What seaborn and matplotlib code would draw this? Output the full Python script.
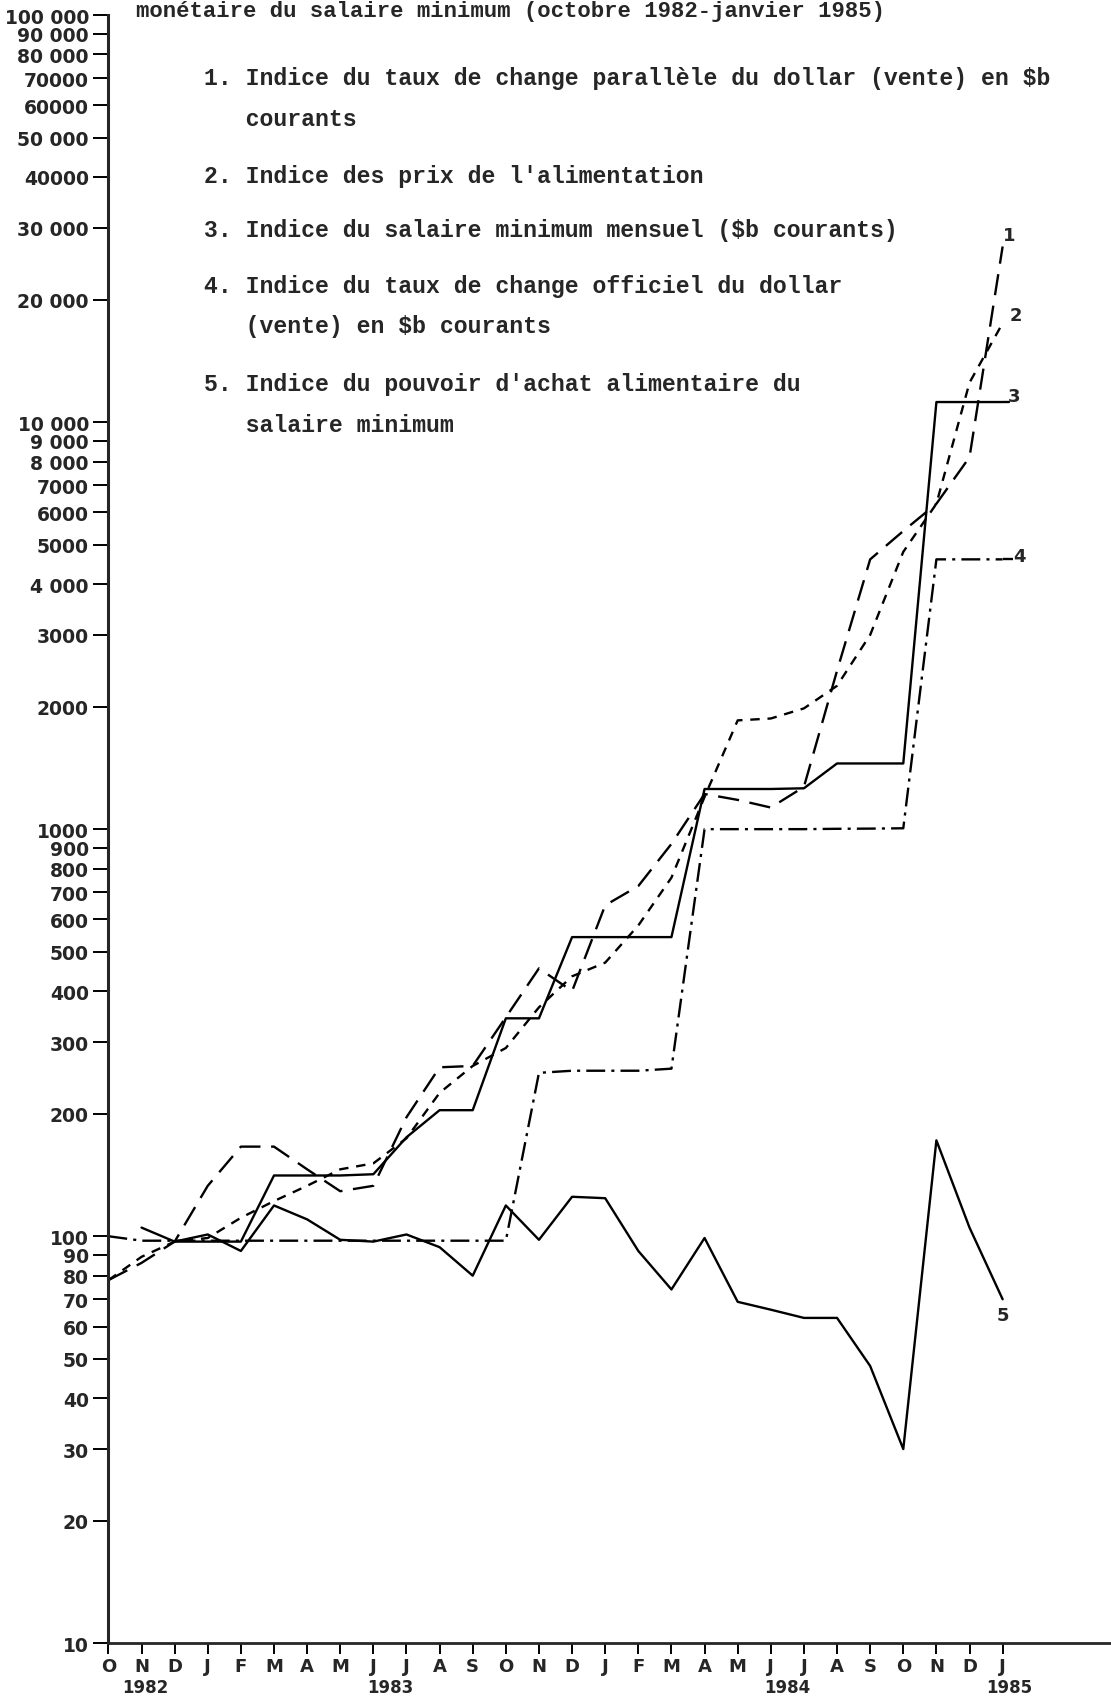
import numpy as np
import pandas as pd
import matplotlib
matplotlib.use("Agg")
import matplotlib.pyplot as plt
import seaborn as sns

nan = np.nan
months = ["O", "N", "D", "J", "F", "M", "A", "M", "J", "J", "A", "S", "O", "N",
          "D", "J", "F", "M", "A", "M", "J", "J", "A", "S", "O", "N", "D", "J"]
years = ["1982", "1983", "1984", "1985"]
year_pos = [1.1, 8.5, 20.5, 27.2]

# 1. parallel exchange rate index
s1 = [78, 86, 97, 133, 166, 166, 146, 129, 133, 196, 260, 262, 345, 455,
      400, 650, 725, 920, 1220, 1180, 1130, 1270, 2450, 4600, 5400, 6300, 8200, 27000]
# 2. food price index
s2 = [78, 89, 97, 99, 111, 122, 133, 146, 151, 174, 225, 262, 290, 365,
      435, 470, 580, 760, 1200, 1850, 1870, 1980, 2250, 3000, 4800, 6300, 12500, 17500]
# 3. monthly minimum wage index
s3 = [nan, nan, 97, 97, 97, 141, 141, 141, 142, 175, 204, 204, 343, 343,
      543, 543, 543, 543, 1255, 1255, 1255, 1260, 1450, 1450, 1450, 11200, 11200, 11200]
# 4. official exchange rate index
s4 = [100, 97.5, 97.5, 97.5, 97.5, 97.5, 97.5, 97.5, 97.5, 97.5, 97.5, 97.5, 97.5, 252,
      255, 255, 255, 258, 1000, 1000, 1000, 1000, 1002, 1003, 1005, 4600, 4600, 4600]
# 5. food purchasing power of the minimum wage
s5 = [nan, 105, 97, 101, 92, 119, 110, 98, 97, 101, 94, 80, 119, 98,
      125, 124, 92, 74, 99, 69, 66, 63, 63, 48, 30, 172, 105, 70]

series_names = ["1", "2", "3", "4", "5"]
series_vals = [s1, s2, s3, s4, s5]
end_labels_y = [28800, 18300, 11600, 4700, 64]

yticks = [10, 20, 30, 40, 50, 60, 70, 80, 90, 100, 200, 300, 400, 500, 600, 700, 800, 900,
          1000, 2000, 3000, 4000, 5000, 6000, 7000, 8000, 9000, 10000, 20000, 30000, 40000,
          50000, 60000, 70000, 80000, 90000, 100000]
ytick_labels = ["10", "20", "30", "40", "50", "60", "70", "80", "90", "100", "200", "300", "400",
                "500", "600", "700", "800", "900", "1000", "2000", "3000", "4 000", "5000",
                "6000", "7000", "8 000", "9 000", "10 000", "20 000", "30 000", "40000",
                "50 000", "60000", "70000", "80 000", "90 000", "100 000"]

legend_lines = [
    "1. Indice du taux de change parallèle du dollar (vente) en $b",
    "   courants",
    "2. Indice des prix de l'alimentation",
    "3. Indice du salaire minimum mensuel ($b courants)",
    "4. Indice du taux de change officiel du dollar",
    "   (vente) en $b courants",
    "5. Indice du pouvoir d'achat alimentaire du",
    "   salaire minimum",
]
legend_y_px = [78, 119, 176, 231, 287, 327, 384, 425]
title = "monétaire du salaire minimum (octobre 1982-janvier 1985)"

rows = []
for name, vals in zip(series_names, series_vals):
    for i, v in enumerate(vals):
        if not np.isnan(v):
            rows.append({"mois": i, "indice": v, "serie": name})
df = pd.DataFrame(rows)

sns.set_style("ticks")
plt.rcParams["font.family"] = ["DejaVu Sans"]

W, H = 1111, 1699
fig = plt.figure(figsize=(W / 100, H / 100), dpi=100)
left_px, bottom_px, top_px = 108.4, 1644.3, 16.0
ax = fig.add_axes([left_px / W, 1 - bottom_px / H, 1 - left_px / W, (bottom_px - top_px) / H])

dashes = {"1": (9, 4.5), "2": (4, 3.3), "3": "", "4": (8, 2.6, 1.3, 2.6), "5": ""}
sns.lineplot(data=df, x="mois", y="indice", style="serie", dashes=dashes, color="black",
             linewidth=1.7, estimator=None, legend=False, ax=ax)

ax.set_yscale("log")
ax.set_ylim(10, 100000)
ax.set_xlim(0, (W - left_px) / 33.12)
ax.set_yticks(yticks)
ax.set_yticklabels(ytick_labels, fontsize=13.5, fontweight="bold")
ax.yaxis.set_minor_locator(matplotlib.ticker.NullLocator())
ax.set_xticks(range(len(months)))
ax.set_xticklabels(months, fontsize=13, fontweight="bold")
ax.tick_params(axis="y", length=11, width=1.4, color="black", pad=3)
ax.tick_params(axis="x", length=8, width=1.4, color="black", pad=2)
ax.set_xlabel("")
ax.set_ylabel("")
for side in ["top", "right"]:
    ax.spines[side].set_visible(False)
ax.spines["left"].set_linewidth(2.2)
ax.spines["bottom"].set_linewidth(2.0)

for yl, yp in zip(years, year_pos):
    xd = ax.transData.transform((yp, 10))[0] / W
    fig.text(xd, 1 - 1688 / H, yl, ha="center", va="center",
             fontsize=12, fontweight="bold")

end_x = [27.2, 27.4, 27.35, 27.5, 27.0]
for name, ex, ey in zip(series_names, end_x, end_labels_y):
    ax.text(ex, ey, name, ha="center", va="center", fontsize=13, fontweight="bold")

# extend lines 3 and 4 to their labels
ax.plot([27, 27.2], [s3[-1], s3[-1]], color="black", lw=1.7)
ax.plot([27, 27.3], [s4[-1], s4[-1]], color="black", lw=1.7, linestyle=(0, dashes["4"]))

for txt, ypx in zip(legend_lines, legend_y_px):
    fig.text(204 / W, 1 - ypx / H, txt, ha="left", va="center", fontsize=16.7,
             family="Liberation Mono", fontweight="bold")

fig.text(135.5 / W, 1 - 11 / H, title, ha="left", va="center", fontsize=16,
         family="Liberation Mono", fontweight="bold")

fig.savefig("out.png", dpi=100, facecolor="white")
